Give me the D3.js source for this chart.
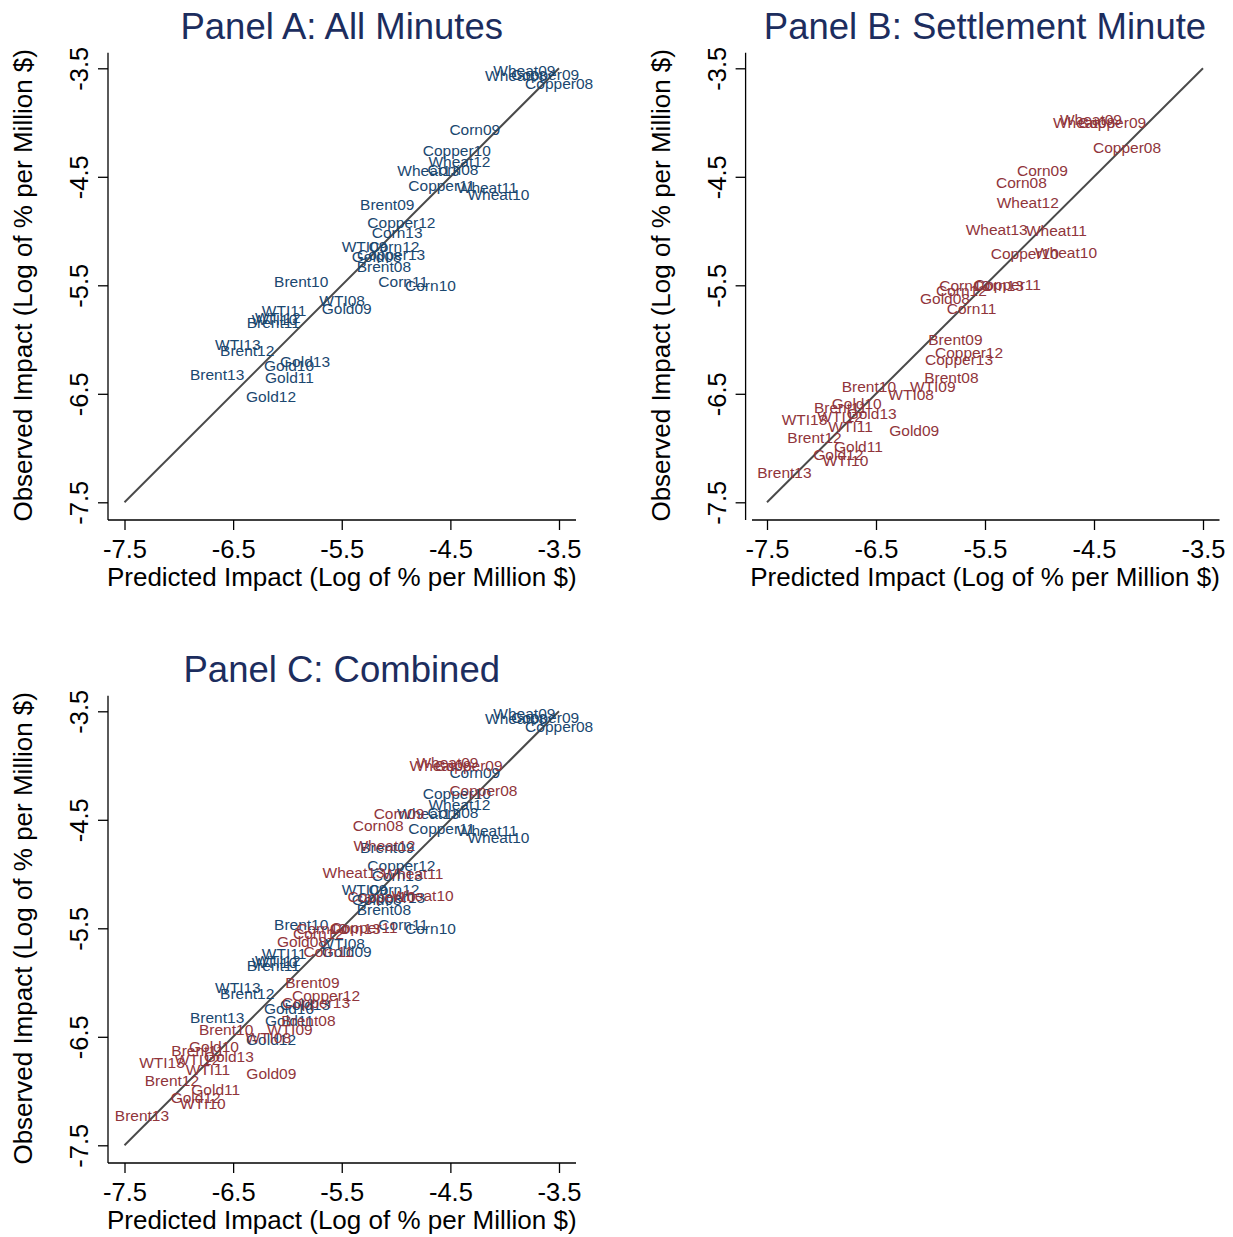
<!DOCTYPE html>
<html>
<head>
<meta charset="utf-8">
<script src="https://cdn.jsdelivr.net/npm/d3@7"></script>
<style>
  body { margin: 0; background: #fff; }
  svg { display: block; font-family: "Liberation Sans", Arial, Helvetica, sans-serif; }
</style>
</head>
<body>
<svg id="chart" width="1233" height="1237"></svg>
<script>
const TICKS = [-7.5, -6.5, -5.5, -4.5, -3.5];

// [label, predicted, observed] — all minutes
const allMinutes = [
  ['Wheat09', -4.141, -3.522], ['Wheat08', -4.217, -3.562], ['Copper09', -3.978, -3.553],
  ['Copper08', -3.849, -3.638], ['Corn09', -4.546, -4.062], ['Copper10', -4.791, -4.253],
  ['Wheat12', -4.739, -4.361], ['Wheat13', -5.025, -4.444], ['Corn08', -4.747, -4.431],
  ['Copper11', -4.924, -4.576], ['Wheat11', -4.478, -4.597], ['Wheat10', -4.380, -4.659],
  ['Brent09', -5.368, -4.753], ['Copper12', -5.301, -4.921], ['Corn13', -5.261, -5.015],
  ['WTI09', -5.537, -5.138], ['Corn12', -5.290, -5.138], ['Copper13', -5.396, -5.211],
  ['Gold08', -5.445, -5.230], ['Brent08', -5.399, -5.329], ['Brent10', -6.160, -5.467],
  ['Corn11', -5.200, -5.467], ['Corn10', -4.954, -5.497], ['WTI08', -5.743, -5.635],
  ['Gold09', -5.721, -5.712], ['WTI11', -6.273, -5.728], ['WTI10', -6.366, -5.811],
  ['WTI12', -6.335, -5.799], ['Brent11', -6.412, -5.845], ['WTI13', -6.703, -6.044],
  ['Brent12', -6.657, -6.096], ['Gold13', -6.105, -6.204], ['Gold10', -6.252, -6.235],
  ['Brent13', -6.934, -6.320], ['Gold11', -6.243, -6.348], ['Gold12', -6.418, -6.527]
];

// [label, predicted, observed] — settlement minute
const settleMinute = [
  ['Wheat09', -4.849, -3.967], ['Wheat08', -4.913, -3.995], ['Copper09', -4.683, -4.001],
  ['Copper08', -4.546, -4.232], ['Corn09', -5.243, -4.444], ['Corn08', -5.436, -4.554],
  ['Wheat12', -5.429, -4.739], ['Wheat13', -5.714, -4.984], ['Wheat11', -5.161, -4.997],
  ['Copper10', -5.484, -5.205], ['Wheat10', -5.078, -5.200], ['Corn10', -5.956, -5.497],
  ['Corn13', -5.647, -5.500], ['Copper11', -5.638, -5.494], ['Corn12', -5.986, -5.548],
  ['Gold08', -6.133, -5.620], ['Corn11', -5.888, -5.716], ['Brent09', -6.057, -5.998],
  ['Copper12', -5.995, -6.121], ['Copper13', -6.087, -6.182], ['Brent08', -6.094, -6.348],
  ['Brent10', -6.851, -6.435], ['WTI09', -6.225, -6.428], ['WTI08', -6.424, -6.505],
  ['Gold10', -6.943, -6.588], ['Brent11', -7.106, -6.624], ['WTI12', -7.075, -6.711],
  ['Gold13', -6.806, -6.680], ['WTI13', -7.402, -6.735], ['WTI11', -6.974, -6.803],
  ['Gold09', -6.415, -6.834], ['Brent12', -7.350, -6.901], ['Gold11', -6.922, -6.988],
  ['Gold12', -7.112, -7.055], ['WTI10', -7.026, -7.110], ['Brent13', -7.626, -7.224]
];

const BLUE = '#1a476f', RED = '#90353b', TITLE = '#1c2d5e';
const XTITLE = 'Predicted Impact (Log of % per Million $)';
const YTITLE = 'Observed Impact (Log of % per Million $)';

// pixel frames of each panel (range of -7.5 .. -3.5 on each axis)
const PANELS = [
  { title: 'Panel A: All Minutes', sets: [[allMinutes, BLUE]],
    x: [124.5, 559], y: [502.3, 68.3], yAxisX: 108, xAxis: [108, 576] },
  { title: 'Panel B: Settlement Minute', sets: [[settleMinute, RED]],
    x: [767, 1203], y: [502.3, 68.3], yAxisX: 745.6, xAxis: [752, 1219.5] },
  { title: 'Panel C: Combined', sets: [[allMinutes, BLUE], [settleMinute, RED]],
    x: [124.5, 559], y: [1145.3, 711.3], yAxisX: 108, xAxis: [108, 576] }
];

const svg = d3.select('#chart');
const fmt = d => d.toFixed(1);

PANELS.forEach(p => {
  const x = d3.scaleLinear().domain([-7.5, -3.5]).range(p.x);
  const y = d3.scaleLinear().domain([-7.5, -3.5]).range(p.y);
  const g = svg.append('g');
  const axisY = p.y[0] + 17.7;
  const cx = (p.x[0] + p.x[1]) / 2, cy = (p.y[0] + p.y[1]) / 2;

  // title
  g.append('text').attr('x', cx).attr('y', p.y[1] - 29.3)
    .attr('text-anchor', 'middle').attr('font-size', 36.5).attr('fill', TITLE).text(p.title);

  // x axis
  const gx = g.append('g').attr('transform', `translate(0,${axisY})`)
    .call(d3.axisBottom(x).tickValues(TICKS).tickFormat(fmt).tickSize(10).tickSizeOuter(0).tickPadding(10));
  gx.select('.domain').remove();
  gx.append('line').attr('x1', p.xAxis[0]).attr('x2', p.xAxis[1])
    .attr('stroke', '#000').attr('stroke-width', 1.3);
  gx.selectAll('.tick line').attr('stroke', '#000').attr('stroke-width', 1.3);
  gx.selectAll('.tick text').attr('font-size', 25.5).attr('fill', '#000')
    .attr('font-family', '"Liberation Sans", Arial, sans-serif');

  // y axis
  const gy = g.append('g').attr('transform', `translate(${p.yAxisX},0)`)
    .call(d3.axisLeft(y).tickValues(TICKS).tickFormat(fmt).tickSize(10).tickSizeOuter(0));
  gy.select('.domain').remove();
  gy.append('line').attr('y1', p.y[1] - 15.6).attr('y2', axisY)
    .attr('stroke', '#000').attr('stroke-width', 1.3);
  gy.selectAll('.tick line').attr('stroke', '#000').attr('stroke-width', 1.3);
  gy.selectAll('.tick text').attr('font-size', 25.5).attr('fill', '#000')
    .attr('font-family', '"Liberation Sans", Arial, sans-serif')
    .attr('x', null).attr('dy', null).attr('text-anchor', 'middle')
    .attr('transform', 'translate(-20,0) rotate(-90)');

  // axis titles
  g.append('text').attr('x', cx).attr('y', p.y[0] + 84)
    .attr('text-anchor', 'middle').attr('font-size', 26).text(XTITLE);
  g.append('text').attr('transform', `translate(${p.yAxisX - 76},${cy}) rotate(-90)`)
    .attr('text-anchor', 'middle').attr('font-size', 26).text(YTITLE);

  // 45-degree reference line
  g.append('line')
    .attr('x1', x(-7.5)).attr('y1', y(-7.5)).attr('x2', x(-3.5)).attr('y2', y(-3.5))
    .attr('stroke', '#4a4a4a').attr('stroke-width', 2);

  // point labels (markers invisible, label at 3 o'clock)
  p.sets.forEach(([data, color]) => {
    g.append('g').selectAll('text').data(data).join('text')
      .attr('x', d => x(d[1]) + 4).attr('y', d => y(d[2])).attr('dy', '0.36em')
      .attr('font-size', 15.5).attr('fill', color).text(d => d[0]);
  });
});
</script>
</body>
</html>
